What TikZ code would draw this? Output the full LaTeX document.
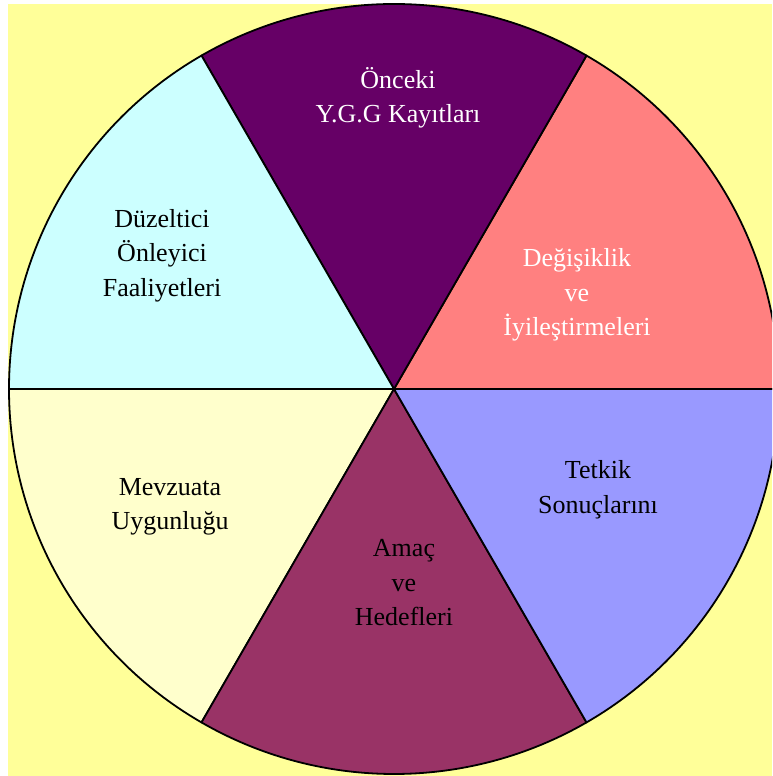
\documentclass[tikz,border=0pt]{standalone}
\usepackage{fontspec}
\setmainfont{Liberation Serif}
\definecolor{bgyellow}{HTML}{FFFF99}
\definecolor{secTop}{HTML}{660066}
\definecolor{secUR}{HTML}{FF8080}
\definecolor{secLR}{HTML}{9999FF}
\definecolor{secBot}{HTML}{993366}
\definecolor{secLL}{HTML}{FFFFCC}
\definecolor{secUL}{HTML}{CCFFFF}
\begin{document}
\begin{tikzpicture}[x=1pt,y=1pt,
  sector/.style={draw=black,line width=1.8pt,line join=round},
  lbl/.style={align=center,inner sep=0pt,font=\fontsize{26}{34.5}\selectfont}]
\useasboundingbox (0,0) rectangle (772,776);
\fill[white] (0,0) rectangle (772,776);
\fill[bgyellow] (8,0) rectangle (772,772);
\clip (0,0) rectangle (772,776);
\def\pieR{385}
\coordinate (c) at (394,387);
% six 60-degree sectors of the wheel
\filldraw[sector,fill=secUR]  (c) -- ++(0:\pieR)   arc[start angle=0,  end angle=60, radius=\pieR] -- cycle;
\filldraw[sector,fill=secTop] (c) -- ++(60:\pieR)  arc[start angle=60, end angle=120,radius=\pieR] -- cycle;
\filldraw[sector,fill=secUL]  (c) -- ++(120:\pieR) arc[start angle=120,end angle=180,radius=\pieR] -- cycle;
\filldraw[sector,fill=secLL]  (c) -- ++(180:\pieR) arc[start angle=180,end angle=240,radius=\pieR] -- cycle;
\filldraw[sector,fill=secBot] (c) -- ++(240:\pieR) arc[start angle=240,end angle=300,radius=\pieR] -- cycle;
\filldraw[sector,fill=secLR]  (c) -- ++(300:\pieR) arc[start angle=300,end angle=360,radius=\pieR] -- cycle;
% sector labels
\node[lbl,text=white] (kayit)  at (398,678)   {Önceki\\Y.G.G Kayıtları};
\node[lbl,text=white] (degis)  at (577,481)   {Değişiklik\\ve\\İyileştirmeleri};
\node[lbl]            (duzelt) at (162,520.5) {Düzeltici\\Önleyici\\Faaliyetleri};
\node[lbl]            (tetkik) at (598,286)   {Tetkik\\Sonuçlarını};
\node[lbl]            (amac)   at (404,193)   {Amaç\\ve\\Hedefleri};
\node[lbl]            (mevzu)  at (170,269)   {Mevzuata\\Uygunluğu};
\end{tikzpicture}
\end{document}
